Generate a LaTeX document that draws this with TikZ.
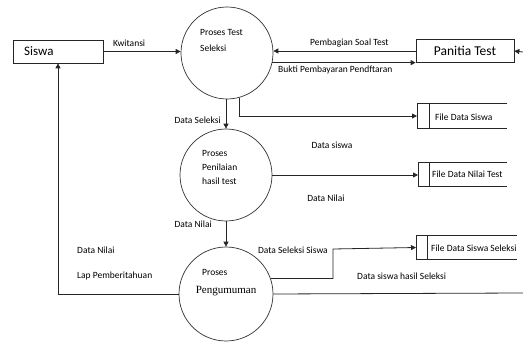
\documentclass[tikz,border=0pt]{standalone}
\usepackage{fontspec}
\setmainfont{Carlito}
\newfontfamily\serifont{Liberation Serif}
\usetikzlibrary{arrows.meta,calc}
\begin{document}
\begin{tikzpicture}[x=1pt,y=-1pt,
  line/.style={draw=black!85,line width=0.8pt},
  arr/.style={line,-{Triangle[length=5pt,width=5pt]}},
  proc/.style={circle,draw=black!80,line width=0.7pt,minimum size=92pt,inner sep=0pt},
  ent/.style={rectangle,draw=black!85,line width=0.7pt,minimum height=23pt,inner sep=0pt},
  lbl/.style={font=\fontsize{9.5}{11}\selectfont,inner sep=0pt},
  stlbl/.style={font=\fontsize{9.5}{11}\selectfont,inner sep=0pt,anchor=west},
  store/.style={minimum height=23pt,inner sep=0pt}
]
\useasboundingbox (0,0) rectangle (523,342);

% entities
\node[ent,minimum width=90pt] (siswa) at (58,51.5) {};
\node[font=\fontsize{13}{15}\selectfont,anchor=west,inner sep=0pt] (siswat) at (24,51.5) {Siswa};
\node[ent,minimum width=98pt,font=\fontsize{13.5}{15}\selectfont] (panitia) at (465,51) {Panitia Test};

% processes
\node[proc] (p1) at (227,53) {};
\node[lbl,anchor=west] (p1a) at (200,32) {Proses Test};
\node[lbl,anchor=west] (p1b) at (200,48) {Seleksi};

\node[proc] (p2) at (226,175) {};
\node[lbl,anchor=west] (p2a) at (202,153) {Proses};
\node[lbl,anchor=west] (p2b) at (202,167) {Penilaian};
\node[lbl,anchor=west] (p2c) at (202,181) {hasil test};

\node[proc,minimum size=94pt] (p3) at (226,294) {};
\node[lbl,anchor=west] (p3a) at (202,272) {Proses};
\node[font=\serifont\fontsize{11}{13}\selectfont,inner sep=0pt] (p3b) at (226,291) {Pengumuman};

% stores
\node[store,minimum width=90pt,minimum height=24pt,anchor=west] (fds) at (417,116) {};
\node[store,minimum width=89pt,minimum height=23pt,anchor=west] (fdn) at (418,174.5) {};
\node[store,minimum width=101pt,minimum height=23pt,anchor=west] (fdss) at (416,247.5) {};
\foreach \s/\i in {fds/12,fdn/11,fdss/11}{
  \draw[line,line width=0.7pt] (\s.north east) -- (\s.north west) -- (\s.south west) -- (\s.south east);
  \draw[line,line width=0.7pt] ($(\s.north west)+(\i,0)$) -- ($(\s.south west)+(\i,0)$);
}
\node[stlbl] (fdst) at (435,117) {File Data Siswa};
\node[stlbl] (fdnt) at (432,174) {File Data Nilai Test};
\node[stlbl] (fdsst) at (431,248) {File Data Siswa Seleksi};

% coordinates
\coordinate (rin) at (523,52);
\coordinate (bend) at (333,249);
\coordinate (rout) at (523,293);

% connectors
\draw[arr] (siswa.east) -- (siswa.east -| p1.west);
\node[lbl,anchor=south west] (kw) at (113,47) {Kwitansi};

\draw[arr] (panitia.west) -- (panitia.west -| p1.east);
\node[lbl,anchor=south west] (pst) at (310,47) {Pembagian Soal Test};

\draw[arr] (p1.-12) -- (p1.-12 -| panitia.west);
\node[lbl,anchor=north west] (bpp) at (278,66) {Bukti Pembayaran Pendftaran};

\draw[arr] (rin) -- (panitia.east);

\draw[arr] (p1.south -| p2.north) -- (p2.north);
\node[lbl,anchor=east] (ds) at (221,120) {Data Seleksi};

\draw[arr] (p1.-75) |- (fds.west);
\node[lbl] (dsw) at (332,145) {Data siswa};

\draw[arr] (p2.east) -- (p2.east -| fdn.west);
\node[lbl] (dn) at (326,198) {Data Nilai};

\draw[arr] (p2.south) -- (p3.north);
\node[lbl,anchor=east] (dn2) at (212,224) {Data Nilai};

\draw[arr] (p3.west) -| (siswa.south);
\node[lbl,anchor=west] (dn3) at (77,250) {Data Nilai};
\node[lbl,anchor=west] (lp) at (77,276) {Lap Pemberitahuan};

\draw[arr] (p3.19) -| (bend) -- (fdss.west);
\node[lbl,anchor=east] (dss) at (328,250) {Data Seleksi Siswa};

\draw[line] (p3.east) -- (rout);
\node[lbl,anchor=west] (dshs) at (357,276) {Data siswa hasil Seleksi};
\end{tikzpicture}
\end{document}
